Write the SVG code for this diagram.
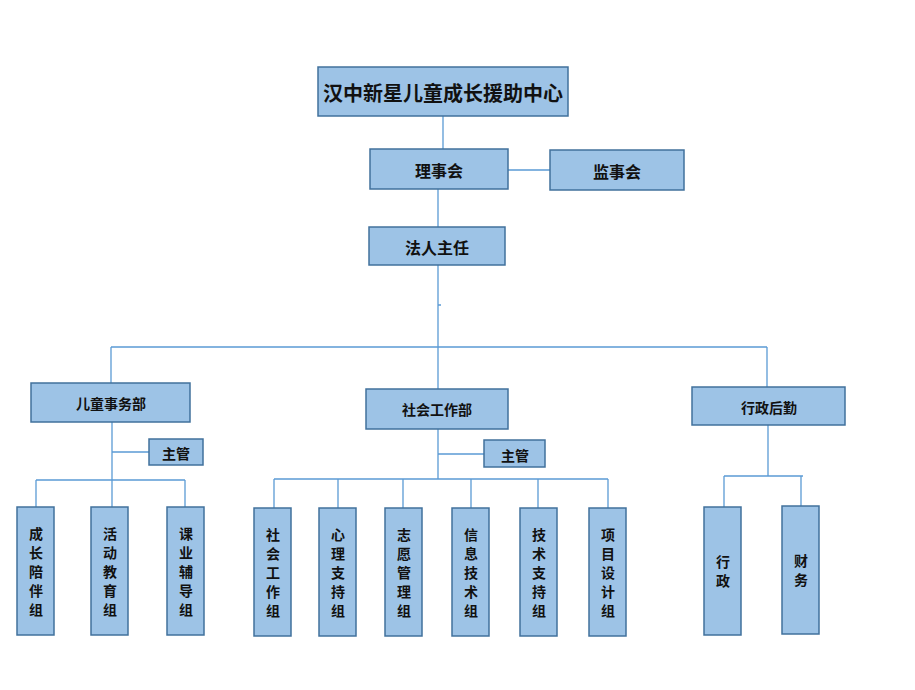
<svg xmlns="http://www.w3.org/2000/svg" width="915" height="690" viewBox="0 0 915 690">
<style>
.b{fill:#9DC3E6;stroke:#41719C;stroke-width:1.5}
.c{fill:none;stroke:#5B9BD5;stroke-width:1.3}
text{font-family:"Noto Sans CJK SC","Noto Sans CJK TC",sans-serif;font-weight:bold;fill:#111;text-anchor:middle;dominant-baseline:central}
.t1{font-size:20px}
.t2{font-size:16px}
.t3{font-size:14px}
</style>
<rect width="915" height="690" fill="#fff"/>
<g id="connectors">
<path class="c" d="M443,116V149M508,170H550M438,189V227M438,265V389M438,305H441M111,347H767M111,347V383M767,347V387"/>
<path class="c" d="M112,422V507M112,452H149M36,480H185M36,480V507M185,480V507"/>
<path class="c" d="M438,429V479M438,454H484M274,479H608M274,479V508M338,479V508M403,479V508M471,479V508M538,479V508M608,479V508"/>
<path class="c" d="M768,425V476M724,476H803M724,476V507M801,476V506"/>
</g>
<g id="n-center"><rect class="b" x="318" y="67" width="250" height="49"/><text class="t1" x="443" y="92">汉中新星儿童成长援助中心</text></g>
<g id="n-board"><rect class="b" x="370" y="149" width="138" height="40"/><text class="t2" x="439" y="170">理事会</text></g>
<g id="n-supervisors"><rect class="b" x="550" y="150" width="134" height="40"/><text class="t2" x="617" y="171">监事会</text></g>
<g id="n-legal"><rect class="b" x="369" y="227" width="136" height="38"/><text class="t2" x="437" y="247">法人主任</text></g>
<g id="n-dept1"><rect class="b" x="31" y="383" width="159" height="39"/><text class="t3" x="111" y="403">儿童事务部</text></g>
<g id="n-dept2"><rect class="b" x="366" y="389" width="142" height="40"/><text class="t3" x="437" y="409">社会工作部</text></g>
<g id="n-dept3"><rect class="b" x="692" y="387" width="153" height="38"/><text class="t3" x="769" y="407">行政后勤</text></g>
<g id="n-mgr1"><rect class="b" x="149" y="439" width="54" height="26"/><text class="t3" x="176" y="453">主管</text></g>
<g id="n-mgr2"><rect class="b" x="484" y="440" width="61" height="27"/><text class="t3" x="515" y="455">主管</text></g>
<g id="g1"><rect class="b" x="17" y="507" width="37" height="128"/><text class="t3" x="36" y="533"><tspan x="36">成</tspan><tspan x="36" dy="19">长</tspan><tspan x="36" dy="19">陪</tspan><tspan x="36" dy="19">伴</tspan><tspan x="36" dy="19">组</tspan></text></g>
<g id="g2"><rect class="b" x="91" y="507" width="37" height="128"/><text class="t3" x="110" y="533"><tspan x="110">活</tspan><tspan x="110" dy="19">动</tspan><tspan x="110" dy="19">教</tspan><tspan x="110" dy="19">育</tspan><tspan x="110" dy="19">组</tspan></text></g>
<g id="g3"><rect class="b" x="167" y="507" width="37" height="128"/><text class="t3" x="186" y="533"><tspan x="186">课</tspan><tspan x="186" dy="19">业</tspan><tspan x="186" dy="19">辅</tspan><tspan x="186" dy="19">导</tspan><tspan x="186" dy="19">组</tspan></text></g>
<g id="g4"><rect class="b" x="254" y="508" width="37" height="128"/><text class="t3" x="273" y="534"><tspan x="273">社</tspan><tspan x="273" dy="19">会</tspan><tspan x="273" dy="19">工</tspan><tspan x="273" dy="19">作</tspan><tspan x="273" dy="19">组</tspan></text></g>
<g id="g5"><rect class="b" x="319" y="508" width="37" height="128"/><text class="t3" x="338" y="534"><tspan x="338">心</tspan><tspan x="338" dy="19">理</tspan><tspan x="338" dy="19">支</tspan><tspan x="338" dy="19">持</tspan><tspan x="338" dy="19">组</tspan></text></g>
<g id="g6"><rect class="b" x="385" y="508" width="37" height="128"/><text class="t3" x="404" y="534"><tspan x="404">志</tspan><tspan x="404" dy="19">愿</tspan><tspan x="404" dy="19">管</tspan><tspan x="404" dy="19">理</tspan><tspan x="404" dy="19">组</tspan></text></g>
<g id="g7"><rect class="b" x="452" y="508" width="37" height="128"/><text class="t3" x="471" y="534"><tspan x="471">信</tspan><tspan x="471" dy="19">息</tspan><tspan x="471" dy="19">技</tspan><tspan x="471" dy="19">术</tspan><tspan x="471" dy="19">组</tspan></text></g>
<g id="g8"><rect class="b" x="520" y="508" width="37" height="128"/><text class="t3" x="539" y="534"><tspan x="539">技</tspan><tspan x="539" dy="19">术</tspan><tspan x="539" dy="19">支</tspan><tspan x="539" dy="19">持</tspan><tspan x="539" dy="19">组</tspan></text></g>
<g id="g9"><rect class="b" x="589" y="508" width="37" height="128"/><text class="t3" x="608" y="534"><tspan x="608">项</tspan><tspan x="608" dy="19">目</tspan><tspan x="608" dy="19">设</tspan><tspan x="608" dy="19">计</tspan><tspan x="608" dy="19">组</tspan></text></g>
<g id="g10"><rect class="b" x="704" y="507" width="37" height="128"/><text class="t3" x="723" y="561"><tspan x="723">行</tspan><tspan x="723" dy="19">政</tspan></text></g>
<g id="g11"><rect class="b" x="782" y="506" width="37" height="128"/><text class="t3" x="801" y="560"><tspan x="801">财</tspan><tspan x="801" dy="19">务</tspan></text></g>
</svg>
